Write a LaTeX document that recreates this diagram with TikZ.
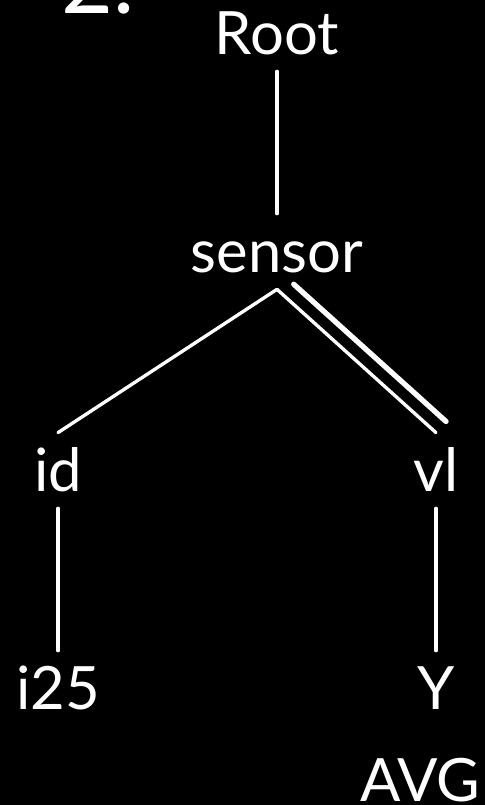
\documentclass[tikz,border=0pt]{standalone}
\usepackage{fontspec}
\setmainfont{Lato}
\usetikzlibrary{positioning,calc}

\begin{document}
\begin{tikzpicture}[
    term/.style={text=white, font=\fontsize{34}{40}\selectfont, inner xsep=0pt, inner ysep=0.32cm, text height=0.86cm, text depth=0pt},
    link/.style={white, line width=1.9pt, line cap=round},
    heavy/.style={white, line width=3pt, line cap=round}
]
\fill[black] (0,0) rectangle (9.7,16.1);
\useasboundingbox (0,0) rectangle (9.7,16.1);
\clip (0,0) rectangle (9.7,16.1);

\node[text=white, font=\fontsize{51}{60}\selectfont, inner sep=0pt, anchor=base west] (num) at (1.22,15.82) {2.};

\node[term, anchor=base] (root) at (5.54,15.0) {Root};
\node[term, below=4.36cm of root.base, anchor=base] (sensor) {sensor};
\node[term, below left=4.38cm and 4.38cm of sensor.base, anchor=base] (id) {id};
\node[term, below right=4.38cm and 3.18cm of sensor.base, anchor=base] (vl) {vl};
\node[term, below=4.36cm of id.base, anchor=base] (i25) {i25};
\node[term, below=4.36cm of vl.base, anchor=base] (y) {Y};
\node[term, below left=1.84cm and 0.31cm of y.base, anchor=base] (avg) {AVG};

\draw[link] (root.south) -- (sensor.north);
\draw[link] (sensor.south) -- (id.north);
\draw[link] (sensor.south) -- (vl.north);
\draw[heavy, shorten <=0.18cm] ($(sensor.south)!0.3cm!90:(vl.north)$) -- ($(vl.north)!0.3cm!-90:(sensor.south)$);
\draw[link] (id.south) -- (i25.north);
\draw[link] (vl.south) -- (y.north);
\end{tikzpicture}
\end{document}
